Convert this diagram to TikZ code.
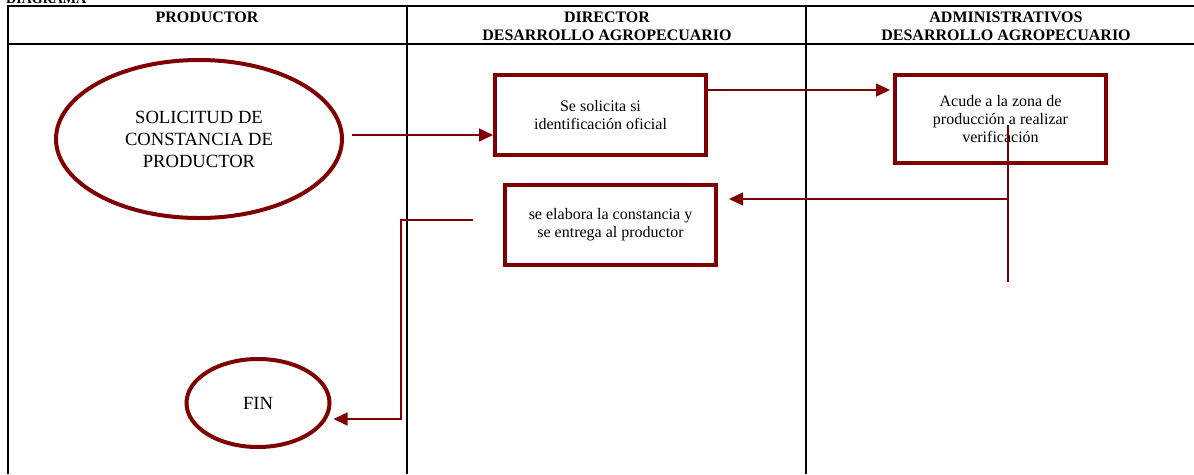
\documentclass[tikz,border=0pt]{standalone}
\usepackage{fontspec}
\setmainfont{Liberation Serif}
\usetikzlibrary{positioning,arrows.meta,shapes.geometric}
\definecolor{flowred}{RGB}{128,0,0}

\begin{document}
\begin{tikzpicture}[x=1pt, y=-1pt,
  every node/.style={inner sep=0pt},
  lane/.style={line width=1.6pt, black},
  lanehead/.style={font=\bfseries\fontsize{16}{18}\selectfont, align=center},
  procbox/.style={draw=flowred, line width=4pt, rectangle, align=center,
    minimum width=211pt, minimum height=80pt,
    font=\fontsize{16}{18}\selectfont},
  termnode/.style={draw=flowred, line width=4pt, ellipse, align=center,
    font=\fontsize{18.6}{22}\selectfont},
  flow/.style={draw=flowred, line width=1.5pt,
    -{Triangle[length=14pt,width=13pt]}},
  link/.style={draw=flowred, line width=1.5pt}]
  \useasboundingbox (0,0) rectangle (1194,474);

  % ============ LANES ============
  \node[anchor=base west, font=\bfseries\fontsize{14}{16}\selectfont] (title) at (6,3) {DIAGRAMA};
  \draw[lane] (8,474) -- (8,6) -- (1194,6);
  \draw[lane] (8,44) -- (1194,44);
  \draw[lane] (407,6) -- (407,474);
  \draw[lane] (806,6) -- (806,474);
  \node[lanehead] (hprod) at (207,17) {PRODUCTOR};
  \node[lanehead] (hdir)  at (607,26) {DIRECTOR\\DESARROLLO AGROPECUARIO};
  \node[lanehead] (hadm)  at (1006,26) {ADMINISTRATIVOS\\DESARROLLO AGROPECUARIO};

  % ============ STEPS ============
  \node[termnode, minimum width=286pt, minimum height=158pt] (start) at (199,139)
    {SOLICITUD DE\\CONSTANCIA DE\\PRODUCTOR};
  \node[procbox] (solic) at (600.5,115) {Se solicita si\\identificación oficial};
  \node[procbox, minimum height=88pt] (acude) at (1000.5,119)
    {Acude a la zona de\\producción a realizar\\verificación};
  \node[procbox] (elab) at (610.5,225) {se elabora la constancia y\\se entrega al productor};
  \node[termnode, minimum width=143pt, minimum height=88pt] (fin) at (258,403) {FIN};

  % ============ CONNECTORS ============
  % free ends of the lines that do not start at a node border
  \coordinate (vtop)    at (1008,125);
  \coordinate (vbot)    at (1008,282);
  \coordinate (elabout) at (473,220);
  \coordinate (bend)    at (401,220);
  \draw[flow] ([xshift=8pt,yshift=4pt]start.east) -- ([yshift=4pt]start.east -| solic.west);
  \draw[flow, shorten >=3pt] ([yshift=-17pt]solic.north east) -- ([yshift=-17pt]solic.north east -| acude.west);
  \draw[link] (vtop) -- (vbot);
  \draw[flow, shorten >=11pt] (vtop |- 0,199) -- (elab.east |- 0,199);
  \draw[flow] (elabout) -- (bend) |- ([xshift=2pt,yshift=-16pt]fin.east);
\end{tikzpicture}
\end{document}
